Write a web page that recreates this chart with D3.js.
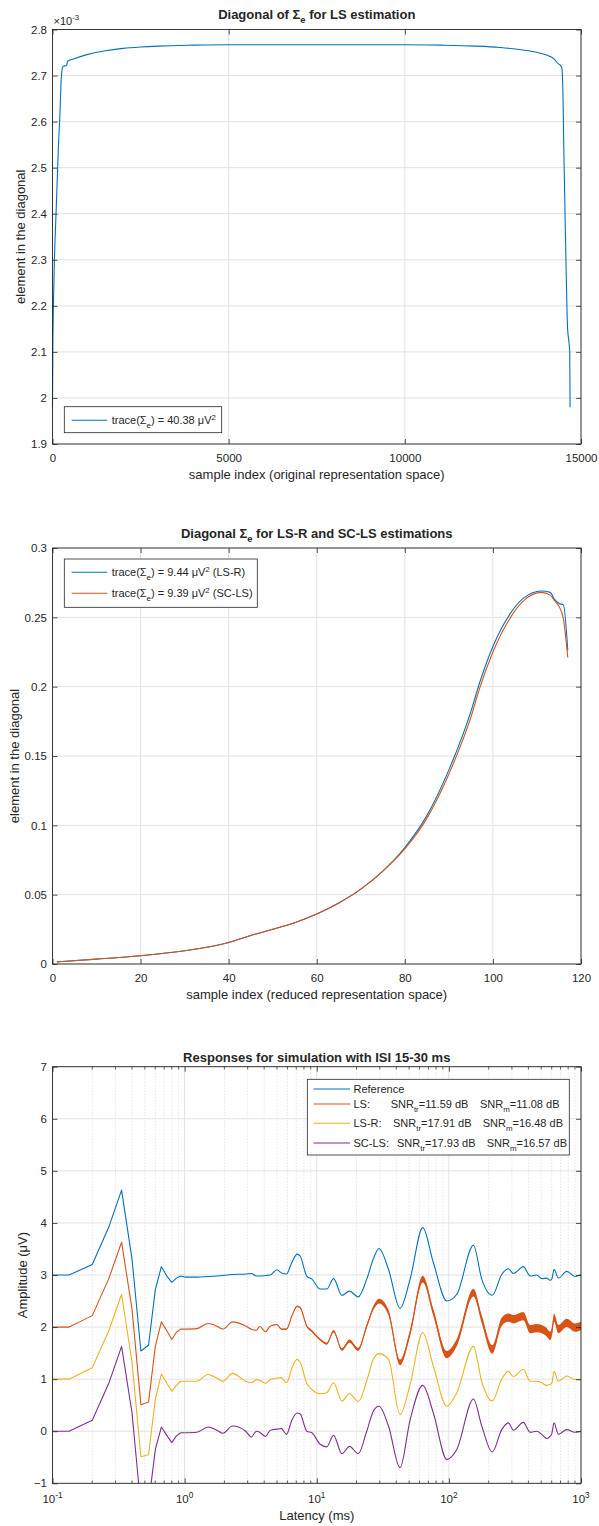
<!DOCTYPE html>
<html>
<head>
<meta charset="utf-8">
<script src="https://cdn.jsdelivr.net/npm/d3@7"></script>
<style>
  body { margin: 0; background: #fff; }
  svg { display: block; }
  svg text { font-family: "Liberation Sans", Arial, Helvetica, sans-serif; fill: #262626; }
</style>
</head>
<body>
<svg id="fig" width="599" height="1526"></svg>
<script>
// ---------------- Panel 1: diagonal of Sigma_e, LS (original space), units 1e-3 ----------------
const lsSampleIndex = [0, 10, 40, 100, 170, 213, 240, 260, 300, 400, 430, 600, 1000, 1500, 2000, 2500, 3000,
  4000, 5000, 6000, 7000, 8000, 9000, 10000, 11000, 12000, 12700, 13200, 13700, 14000, 14250,
  14300, 14350, 14420, 14460, 14490, 14510, 14560, 14620, 14660, 14680, 14690];
const lsDiagonal = [1.98, 2.10, 2.25, 2.40, 2.55, 2.62, 2.68, 2.705, 2.72, 2.722, 2.731, 2.736, 2.746, 2.754, 2.759, 2.762, 2.764,
  2.766, 2.767, 2.767, 2.767, 2.767, 2.767, 2.767, 2.766, 2.764, 2.761, 2.757, 2.751, 2.745, 2.735,
  2.730, 2.726, 2.722, 2.715, 2.65, 2.55, 2.35, 2.15, 2.12, 2.10, 1.98];
const p1XTicks = [0, 5000, 10000, 15000];
const p1YTicks = [1.9, 2, 2.1, 2.2, 2.3, 2.4, 2.5, 2.6, 2.7, 2.8];

// ---------------- Panel 2: diagonal Sigma_e, LS-R and SC-LS (reduced space) ----------------
const reducedIndex = [1, 10, 20, 30, 40, 45, 50, 55, 60, 65, 70, 75, 80, 85, 90, 95, 97, 100, 104, 107, 111, 113, 114, 115, 116, 117];
const diagLSR  = [0.0015, 0.0035, 0.006, 0.0095, 0.0155, 0.0205, 0.025, 0.0298, 0.036, 0.044, 0.054, 0.067, 0.084, 0.107, 0.140, 0.182, 0.203, 0.229, 0.253, 0.264, 0.269, 0.268, 0.263, 0.260, 0.259, 0.226];
const diagSCLS = [0.0015, 0.0035, 0.006, 0.0095, 0.0155, 0.0205, 0.025, 0.0298, 0.036, 0.044, 0.054, 0.067, 0.083, 0.105, 0.137, 0.178, 0.199, 0.225, 0.250, 0.262, 0.268, 0.266, 0.262, 0.258, 0.249, 0.221];
const p2XTicks = [0, 20, 40, 60, 80, 100, 120];
const p2YTicks = [0, 0.05, 0.1, 0.15, 0.2, 0.25, 0.3];

// ---------------- Panel 3: responses (offset traces), latency in ms ----------------
const latencyMs = [0.1, 0.1333, 0.2, 0.2667, 0.3333, 0.4, 0.4667, 0.5333, 0.6, 0.6667, 0.7333, 0.8, 0.8667, 0.9333, 1.0,
  1.24, 1.5, 1.75, 1.95, 2.3, 2.9, 3.2, 3.5, 3.7, 4.1, 4.45, 5.0, 5.4, 5.9, 6.5, 7.1, 7.5, 8.4, 9.2, 10.6,
  11.9, 13.4, 15.5, 17.7, 20.6, 23.9, 27, 29.6, 34.9, 42.7, 50.9, 63.4, 76.3, 96.4, 114.8, 153.4, 177.4, 213,
  251, 282, 308, 366, 412, 463, 505, 550, 583, 601, 625, 674, 780, 900, 1000];
const respReference = [3.0, 3.0, 3.2, 3.92, 4.63, 3.30, 1.54, 1.65, 2.72, 3.16, 2.98, 2.86, 2.94, 2.98, 2.96,
  2.96, 2.97, 2.98, 2.99, 3.01, 3.02, 3.03, 2.98, 2.98, 2.99, 3.00, 3.10, 3.04, 3.02, 3.25, 3.40, 3.36, 2.98, 2.92, 2.73,
  2.73, 2.93, 2.61, 2.69, 2.58, 2.92, 3.33, 3.51, 3.11, 2.36, 2.92, 3.91, 3.24, 2.50, 2.63, 3.57, 2.92, 2.61,
  3.01, 3.12, 3.03, 3.16, 2.98, 3.00, 2.93, 2.94, 2.90, 2.92, 3.11, 2.94, 3.07, 2.97, 3.01];
const respLS = [2.0, 2.0, 2.22, 2.93, 3.63, 2.34, 0.51, 0.56, 1.63, 2.10, 1.93, 1.76, 1.90, 1.96, 1.96,
  1.97, 2.07, 2.02, 1.96, 2.10, 2.02, 1.96, 1.94, 2.01, 1.91, 2.02, 2.05, 1.96, 1.96, 2.22, 2.40, 2.37, 2.02, 1.92, 1.76,
  1.68, 1.92, 1.57, 1.73, 1.57, 2.02, 2.38, 2.50, 2.28, 1.32, 1.89, 2.92, 2.28, 1.47, 1.70, 2.66, 2.15, 1.57,
  2.10, 2.18, 2.15, 2.21, 1.96, 1.98, 1.96, 1.90, 1.83, 1.90, 2.18, 1.96, 2.08, 1.99, 2.02];
// half-width of the high-frequency ripple on the LS trace
const respLSRipple = [0, 0, 0, 0, 0, 0, 0, 0, 0, 0, 0, 0, 0, 0, 0,
  0, 0, 0, 0, 0, 0, 0, 0, 0, 0, 0, 0.01, 0.01, 0.01, 0.015, 0.015, 0.015, 0.02, 0.02, 0.02,
  0.02, 0.025, 0.025, 0.03, 0.03, 0.035, 0.04, 0.045, 0.05, 0.055, 0.06, 0.065, 0.065, 0.07, 0.07, 0.075, 0.075, 0.08,
  0.08, 0.08, 0.08, 0.08, 0.08, 0.08, 0.08, 0.08, 0.08, 0.08, 0.08, 0.08, 0.08, 0.08, 0.08];
const respLSR = [1.0, 1.0, 1.22, 1.93, 2.63, 1.32, -0.49, -0.45, 0.61, 1.10, 0.92, 0.77, 0.88, 0.96, 0.96,
  0.96, 1.09, 1.02, 0.96, 1.11, 0.96, 0.93, 0.99, 0.98, 0.92, 0.99, 1.02, 1.03, 0.93, 1.22, 1.38, 1.32, 0.92, 0.80, 0.72,
  0.74, 0.93, 0.58, 0.72, 0.57, 0.97, 1.40, 1.49, 1.38, 0.32, 0.90, 1.89, 1.25, 0.48, 0.74, 1.63, 0.95, 0.58,
  1.00, 1.15, 1.05, 1.19, 0.96, 0.96, 0.93, 0.88, 0.90, 0.92, 1.15, 0.96, 1.06, 0.99, 0.99];
const respSCLS = [0, 0, 0.21, 0.92, 1.63, 0.35, -1.47, -1.40, -0.35, 0.08, -0.08, -0.22, -0.09, -0.03, -0.03,
  -0.02, 0.08, 0.02, -0.04, 0.10, 0.0, -0.11, 0.0, -0.02, -0.10, 0.02, 0.04, 0.05, -0.06, 0.22, 0.35, 0.33, 0.0, -0.03, -0.25,
  -0.30, -0.08, -0.43, -0.29, -0.43, 0.0, 0.40, 0.48, 0.10, -0.70, 0.22, 0.88, 0.35, -0.54, -0.35, 0.62, 0.10, -0.40,
  0.03, 0.16, 0.02, 0.17, -0.02, 0.00, -0.06, -0.14, -0.10, -0.05, 0.16, -0.06, 0.03, -0.02, 0.00];
const p3XTicks = [0.1, 1, 10, 100, 1000];
const p3XExponents = ["-1", "0", "1", "2", "3"];
const p3YTicks = [-1, 0, 1, 2, 3, 4, 5, 6, 7];
const snrLabels = [
  { name: "Reference", tr: null, m: null },
  { name: "LS:", tr: "11.59", m: "11.08" },
  { name: "LS-R:", tr: "17.91", m: "16.48" },
  { name: "SC-LS:", tr: "17.93", m: "16.57" }
];

// ---------------- styling ----------------
const AXIS = "#262626", GRID = "#e1e1e1", MINOR = "#cfcfcf";
const BLUE = "#0072BD", ORANGE = "#D95319", YELLOW = "#EDB120", PURPLE = "#7E2F8E";
const FT = 11.5, FL = 13, FTITLE = 13, FLEG = 11;
const LEFT = 52.5, RIGHT = 581;

const svg = d3.select("#fig");

// text with sub/superscript runs
function rich(parent, x, y, parts, size, opts = {}) {
  const t = parent.append("text").attr("x", x).attr("y", y).attr("font-size", size);
  if (opts.anchor) t.attr("text-anchor", opts.anchor);
  if (opts.bold) t.attr("font-weight", "bold");
  if (opts.transform) t.attr("transform", opts.transform);
  let shift = 0;
  parts.forEach(p => {
    const target = p.sub ? size * 0.32 : p.sup ? -size * 0.4 : 0;
    const ts = t.append("tspan").attr("dy", target - shift).text(p.t);
    if (p.sub || p.sup) ts.attr("font-size", size * 0.72);
    shift = target;
  });
  return t;
}

function grid(g, x, y, xt, yt, top, bottom) {
  g.append("g").selectAll("line").data(xt).join("line")
    .attr("x1", d => x(d)).attr("x2", d => x(d)).attr("y1", top).attr("y2", bottom)
    .attr("stroke", GRID).attr("stroke-width", 1);
  g.append("g").selectAll("line").data(yt).join("line")
    .attr("x1", LEFT).attr("x2", RIGHT).attr("y1", d => y(d)).attr("y2", d => y(d))
    .attr("stroke", GRID).attr("stroke-width", 1);
}

function frame(g, x, y, xt, yt, top, bottom, xfmt, yfmt, minor) {
  const tick = 5;
  const styleAxis = a => {
    a.attr("color", AXIS).attr("font-size", FT).attr("font-family", null);
    a.select(".domain").remove();
    a.selectAll("line").attr("stroke-width", 0.8);
  };
  g.append("g").attr("transform", `translate(0,${bottom})`)
    .call(d3.axisBottom(x).tickValues(xt).tickSizeInner(-tick).tickSizeOuter(0).tickPadding(9.5).tickFormat(xfmt))
    .call(styleAxis);
  g.append("g").attr("transform", `translate(0,${top})`)
    .call(d3.axisTop(x).tickValues(xt).tickSizeInner(-tick).tickSizeOuter(0).tickFormat(""))
    .call(styleAxis);
  g.append("g").attr("transform", `translate(${LEFT},0)`)
    .call(d3.axisLeft(y).tickValues(yt).tickSizeInner(-tick).tickSizeOuter(0).tickPadding(5.5).tickFormat(yfmt))
    .call(styleAxis);
  g.append("g").attr("transform", `translate(${RIGHT},0)`)
    .call(d3.axisRight(y).tickValues(yt).tickSizeInner(-tick).tickSizeOuter(0).tickFormat(""))
    .call(styleAxis);
  if (minor) {
    g.append("g").selectAll("line").data(minor).join("line")
      .attr("x1", d => x(d)).attr("x2", d => x(d)).attr("y1", bottom).attr("y2", bottom - 2.8)
      .attr("stroke", AXIS).attr("stroke-width", 0.7);
    g.append("g").selectAll("line").data(minor).join("line")
      .attr("x1", d => x(d)).attr("x2", d => x(d)).attr("y1", top).attr("y2", top + 2.8)
      .attr("stroke", AXIS).attr("stroke-width", 0.7);
  }
  g.append("rect").attr("x", LEFT).attr("y", top).attr("width", RIGHT - LEFT).attr("height", bottom - top)
    .attr("fill", "none").attr("stroke", AXIS).attr("stroke-width", 0.9);
}

function legendBox(g, x0, y0, x1, y1) {
  g.append("rect").attr("x", x0).attr("y", y0).attr("width", x1 - x0).attr("height", y1 - y0)
    .attr("fill", "#fff").attr("stroke", AXIS).attr("stroke-width", 0.8);
}

// ================= Panel 1 =================
{
  const top = 29.5, bottom = 444;
  const g = svg.append("g");
  const x = d3.scaleLinear().domain([0, 15000]).range([LEFT, RIGHT]);
  const y = d3.scaleLinear().domain([1.9, 2.8]).range([bottom, top]);
  grid(g, x, y, p1XTicks, p1YTicks, top, bottom);
  g.append("path").datum(d3.zip(lsSampleIndex, lsDiagonal))
    .attr("d", d3.line().x(d => x(d[0])).y(d => y(d[1])).curve(d3.curveMonotoneX))
    .attr("fill", "none").attr("stroke", BLUE).attr("stroke-width", 1.1);
  frame(g, x, y, p1XTicks, p1YTicks, top, bottom, d3.format("d"), d => d3.format("")(+d.toFixed(1)));
  rich(g, 53.5, 24.5, [{ t: "\u00d710" }, { t: "-3", sup: true }], 11);
  rich(g, (LEFT + RIGHT) / 2, 18.5, [{ t: "Diagonal of \u03a3" }, { t: "e", sub: true }, { t: " for LS estimation" }], FTITLE, { anchor: "middle", bold: true });
  g.append("text").attr("x", (LEFT + RIGHT) / 2).attr("y", 479).attr("text-anchor", "middle").attr("font-size", FL)
    .text("sample index (original representation space)");
  g.append("text").attr("transform", `translate(25,${(top + bottom) / 2}) rotate(-90)`).attr("text-anchor", "middle")
    .attr("font-size", FL).text("element in the diagonal");
  legendBox(g, 64.3, 406.7, 221.7, 432.7);
  g.append("line").attr("x1", 71.7).attr("x2", 107.3).attr("y1", 420.3).attr("y2", 420.3).attr("stroke", BLUE).attr("stroke-width", 1.1);
  rich(g, 111.7, 424, [{ t: "trace(\u03a3" }, { t: "e", sub: true }, { t: ") = 40.38 \u03bcV" }, { t: "2", sup: true }], FLEG);
}

// ================= Panel 2 =================
{
  const top = 548, bottom = 964;
  const g = svg.append("g");
  const x = d3.scaleLinear().domain([0, 120]).range([LEFT, RIGHT]);
  const y = d3.scaleLinear().domain([0, 0.3]).range([bottom, top]);
  grid(g, x, y, p2XTicks, p2YTicks, top, bottom);
  const line = d3.line().x(d => x(d[0])).y(d => y(d[1])).curve(d3.curveMonotoneX);
  g.append("path").datum(d3.zip(reducedIndex, diagLSR)).attr("d", line)
    .attr("fill", "none").attr("stroke", BLUE).attr("stroke-width", 1.1);
  g.append("path").datum(d3.zip(reducedIndex, diagSCLS)).attr("d", line)
    .attr("fill", "none").attr("stroke", ORANGE).attr("stroke-width", 1.1);
  frame(g, x, y, p2XTicks, p2YTicks, top, bottom, d3.format("d"), d => d3.format("")(+d.toFixed(2)));
  rich(g, (LEFT + RIGHT) / 2, 537.5, [{ t: "Diagonal \u03a3" }, { t: "e", sub: true }, { t: " for LS-R and SC-LS estimations" }], FTITLE, { anchor: "middle", bold: true });
  g.append("text").attr("x", (LEFT + RIGHT) / 2).attr("y", 999).attr("text-anchor", "middle").attr("font-size", FL)
    .text("sample index (reduced representation space)");
  g.append("text").attr("transform", `translate(19,${(top + bottom) / 2}) rotate(-90)`).attr("text-anchor", "middle")
    .attr("font-size", FL).text("element in the diagonal");
  legendBox(g, 64.3, 559, 257.3, 607.3);
  [[BLUE, 572.3, "9.44", "(LS-R)"], [ORANGE, 593.3, "9.39", "(SC-LS)"]].forEach(([c, ly, v, tag]) => {
    g.append("line").attr("x1", 71.7).attr("x2", 107.3).attr("y1", ly).attr("y2", ly).attr("stroke", c).attr("stroke-width", 1.1);
    rich(g, 111.7, ly + 4, [{ t: "trace(\u03a3" }, { t: "e", sub: true }, { t: `) = ${v} \u03bcV` }, { t: "2", sup: true }, { t: ` ${tag}` }], FLEG);
  });
}

// ================= Panel 3 =================
{
  const top = 1066.7, bottom = 1483.3;
  const g = svg.append("g");
  const x = d3.scaleLog().domain([0.1, 1000]).range([LEFT, RIGHT]);
  const y = d3.scaleLinear().domain([-1, 7]).range([bottom, top]);
  const minor = [];
  [0.1, 1, 10, 100].forEach(dec => { for (let k = 2; k <= 9; k++) minor.push(dec * k); });
  // dotted minor grid
  g.append("g").selectAll("line").data(minor).join("line")
    .attr("x1", d => x(d)).attr("x2", d => x(d)).attr("y1", top).attr("y2", bottom)
    .attr("stroke", MINOR).attr("stroke-width", 0.8).attr("stroke-dasharray", "1,2");
  grid(g, x, y, p3XTicks, p3YTicks, top, bottom);

  g.append("clipPath").attr("id", "clip3").append("rect")
    .attr("x", LEFT).attr("y", top).attr("width", RIGHT - LEFT).attr("height", bottom - top);
  const plot = g.append("g").attr("clip-path", "url(#clip3)");

  // sparse early samples joined straight; later samples drawn smooth
  const nEarly = latencyMs.indexOf(1.0);
  const drawTrace = (vals, color) => {
    const pts = d3.zip(latencyMs, vals);
    plot.append("path").datum(pts.slice(0, nEarly + 1))
      .attr("d", d3.line().x(d => x(d[0])).y(d => y(d[1])))
      .attr("fill", "none").attr("stroke", color).attr("stroke-width", 1.1).attr("stroke-linejoin", "round");
    plot.append("path").datum(pts.slice(nEarly))
      .attr("d", d3.line().x(d => x(d[0])).y(d => y(d[1])).curve(d3.curveMonotoneX))
      .attr("fill", "none").attr("stroke", color).attr("stroke-width", 1.1).attr("stroke-linejoin", "round");
  };
  drawTrace(respReference, BLUE);
  // ripple envelope of the LS trace
  const lsPts = latencyMs.map((t, i) => [t, respLS[i], respLSRipple[i]]).slice(nEarly);
  plot.append("path").datum(lsPts)
    .attr("d", d3.area().x(d => x(d[0])).y0(d => y(d[1] - d[2])).y1(d => y(d[1] + d[2])).curve(d3.curveMonotoneX))
    .attr("fill", ORANGE).attr("stroke", "none");
  drawTrace(respLS, ORANGE);
  drawTrace(respLSR, YELLOW);
  drawTrace(respSCLS, PURPLE);

  frame(g, x, y, p3XTicks, p3YTicks, top, bottom, () => "", d3.format("d"), minor);
  p3XTicks.forEach((t, i) => {
    rich(g, x(t), 1502.5, [{ t: "10" }, { t: p3XExponents[i], sup: true }], FT, { anchor: "middle" });
  });
  g.append("text").attr("x", (LEFT + RIGHT) / 2).attr("y", 1520).attr("text-anchor", "middle").attr("font-size", FL)
    .text("Latency (ms)");
  rich(g, 0, 0, [{ t: "Amplitude (\u03bcV)" }], FL, { anchor: "middle", transform: `translate(27,${(top + bottom) / 2}) rotate(-90)` });
  rich(g, (LEFT + RIGHT) / 2, 1061.5, [{ t: "Responses for simulation with ISI 15-30 ms" }], FTITLE, { anchor: "middle", bold: true });

  legendBox(g, 307.3, 1079.3, 569.3, 1155);
  const rowsY = [1089, 1104, 1123.3, 1143];
  const colors = [BLUE, ORANGE, YELLOW, PURPLE];
  const trX = [0, 390.7, 393, 397];
  const mX = [0, 480, 482.7, 486.7];
  snrLabels.forEach((s, i) => {
    const ly = rowsY[i];
    g.append("line").attr("x1", 313.5).attr("x2", 350).attr("y1", ly).attr("y2", ly).attr("stroke", colors[i]).attr("stroke-width", 1.1);
    g.append("text").attr("x", 353.5).attr("y", ly + 4).attr("font-size", FLEG).text(s.name);
    if (s.tr) {
      rich(g, trX[i], ly + 4, [{ t: "SNR" }, { t: "tr", sub: true }, { t: `=${s.tr} dB` }], FLEG);
      rich(g, mX[i], ly + 4, [{ t: "SNR" }, { t: "m", sub: true }, { t: `=${s.m} dB` }], FLEG);
    }
  });
}
</script>
</body>
</html>
